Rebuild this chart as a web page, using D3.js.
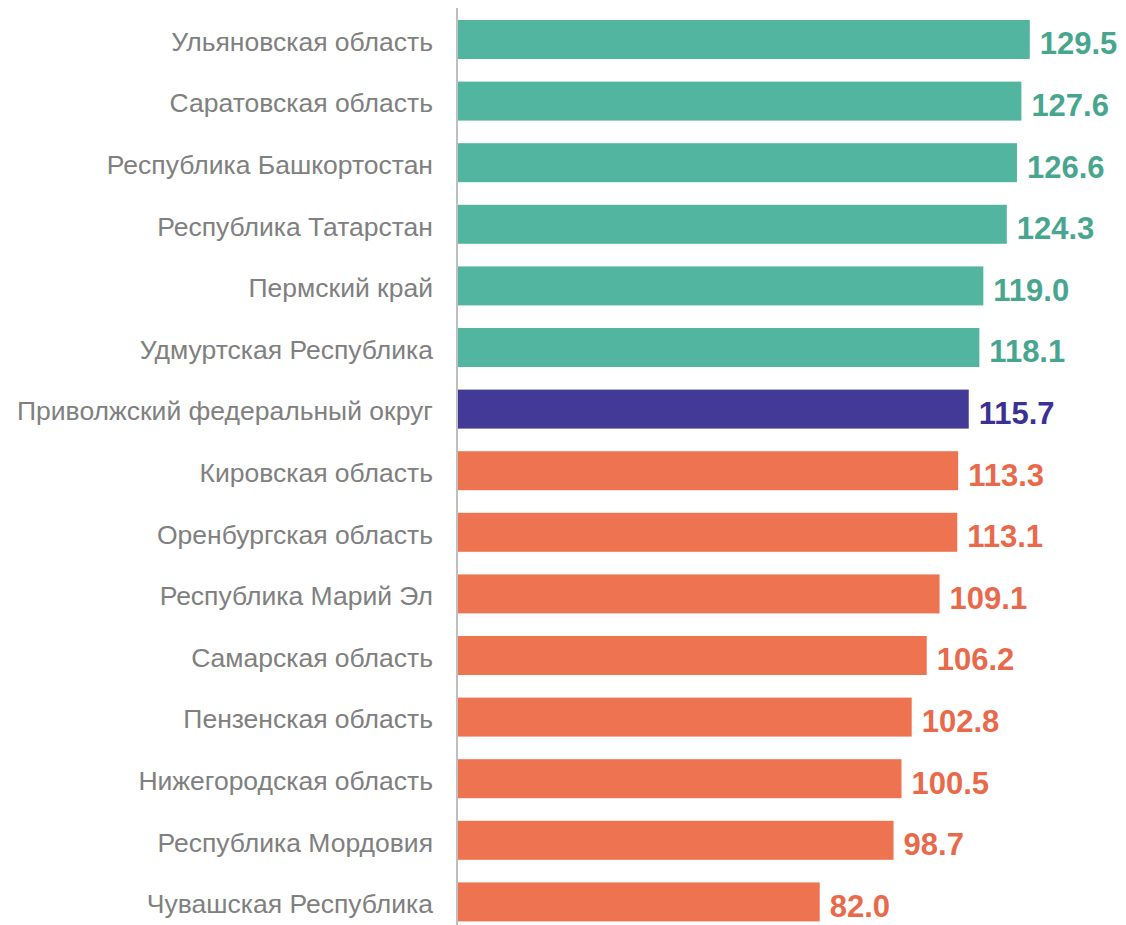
<!DOCTYPE html>
<html>
<head>
<meta charset="utf-8">
<script src="https://cdn.jsdelivr.net/npm/d3@7"></script>
<style>
  html, body { margin: 0; padding: 0; background: #fff; }
  svg { display: block; font-family: "Liberation Sans", Arial, sans-serif; }
</style>
</head>
<body>
<div id="chart"></div>
<script>
const regions = [
  "Ульяновская область",
  "Саратовская область",
  "Республика Башкортостан",
  "Республика Татарстан",
  "Пермский край",
  "Удмуртская Республика",
  "Приволжский федеральный округ",
  "Кировская область",
  "Оренбургская область",
  "Республика Марий Эл",
  "Самарская область",
  "Пензенская область",
  "Нижегородская область",
  "Республика Мордовия",
  "Чувашская Республика"
];
const values = [129.5, 127.6, 126.6, 124.3, 119.0, 118.1, 115.7, 113.3, 113.1, 109.1, 106.2, 102.8, 100.5, 98.7, 82.0];
const district = "Приволжский федеральный округ";
const districtValue = 115.7;

const barColors = { above: "#52b5a0", district: "#433a98", below: "#ee7350" };
const textColors = { above: "#48a68f", district: "#3a3192", below: "#e9694b" };

const data = regions.map((name, i) => {
  const v = values[i];
  const group = name === district ? "district" : (v > districtValue ? "above" : "below");
  return { name, value: v, group };
});

const width = 1126, height = 925;

const svg = d3.select("#chart")
  .append("svg")
  .attr("width", width)
  .attr("height", height);

const x = d3.scaleLinear()
  .domain([0, 130])
  .range([457, 1032]);

const y = d3.scaleBand()
  .domain(regions)
  .range([-2.6, 944])
  .paddingInner(0.367)
  .paddingOuter(0.367);

// bars
svg.selectAll(".bar")
  .data(data)
  .enter()
  .append("rect")
  .attr("class", "bar")
  .attr("x", x(0))
  .attr("y", d => y(d.name))
  .attr("width", d => x(d.value) - x(0))
  .attr("height", y.bandwidth())
  .attr("fill", d => barColors[d.group]);

// vertical axis line
svg.append("line")
  .attr("x1", x(0))
  .attr("x2", x(0))
  .attr("y1", 8)
  .attr("y2", height)
  .attr("stroke", "#bfbfbf")
  .attr("stroke-width", 2);

// category labels
svg.selectAll(".cat")
  .data(data)
  .enter()
  .append("text")
  .attr("class", "cat")
  .attr("x", 433)
  .attr("y", d => y(d.name) + y.bandwidth() / 2 + 2)
  .attr("dy", "0.35em")
  .attr("text-anchor", "end")
  .style("font-size", "26.5px")
  .style("fill", "#808080")
  .text(d => d.name);

// value labels
svg.selectAll(".val")
  .data(data)
  .enter()
  .append("text")
  .attr("class", "val")
  .attr("x", d => x(d.value) + 10)
  .attr("y", d => y(d.name) + y.bandwidth() / 2 + 4)
  .attr("dy", "0.35em")
  .style("font-size", "31px")
  .style("font-weight", "bold")
  .style("fill", d => textColors[d.group])
  .text(d => d.value.toFixed(1));
</script>
</body>
</html>
